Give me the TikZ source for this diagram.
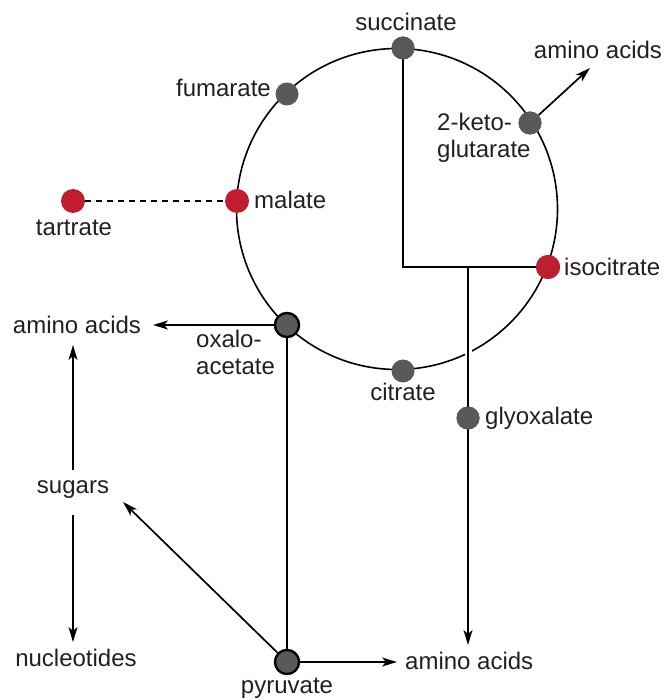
\documentclass[tikz,border=0pt]{standalone}
\usepackage{fontspec}
\setmainfont{Liberation Sans}
\usetikzlibrary{arrows.meta}
\definecolor{dotgray}{HTML}{58595B}
\definecolor{dotred}{HTML}{BE1E2D}
\definecolor{txt}{HTML}{231F20}
\begin{document}
\begin{tikzpicture}[x=1pt,y=-1pt,
  every node/.style={font=\fontsize{24}{27}\selectfont, text=txt},
  gdot/.style={circle, fill=dotgray, minimum size=23pt, inner sep=0pt},
  rdot/.style={circle, fill=dotred, minimum size=24pt, inner sep=0pt},
  bdot/.style={circle, fill=dotgray, draw=black, line width=2.2pt, minimum size=24pt, inner sep=0pt},
  lbl/.style={inner sep=0pt},
  conn/.style={line width=1.7pt, draw=black},
  arr/.style={conn, -{Stealth[length=15pt,width=9pt,inset=4pt]}}]
\useasboundingbox (0,0) rectangle (666,700);
% cycle
\draw[conn, line width=1.6pt] (397,209) circle[radius=160.5];
% dots
\node[gdot] (succ) at (403,48) {};
\node[gdot] (fum) at (287,94) {};
\node[gdot] (kg) at (530,123) {};
\node[rdot] (mal) at (237,201) {};
\node[rdot] (tart) at (73,201) {};
\node[rdot] (iso) at (548,267) {};
\node[bdot] (oxa) at (287,325) {};
\node[gdot] (cit) at (403,371) {};
\node[gdot] (gly) at (468,418) {};
\node[bdot] (pyr) at (287,662) {};
% labels
\node[lbl] (succL) at (406,22) {succinate};
\node[lbl, anchor=east] (fumL) at (271,88) {fumarate};
\node[lbl, anchor=west, align=left] (kgL) at (437,138) {2-keto-\\glutarate};
\node[lbl, anchor=west] (malL) at (254,200) {malate};
\node[lbl] (tartL) at (74,228) {tartrate};
\node[lbl, anchor=west] (isoL) at (564,267) {isocitrate};
\node[lbl] (aaTR) at (598,50) {amino acids};
\node[lbl, anchor=west, align=left] (oxaL) at (196,352) {oxalo-\\acetate};
\node[lbl] (citL) at (403,392) {citrate};
\node[lbl, anchor=west] (glyL) at (485,418) {glyoxalate};
\node[lbl] (aaL) at (77,325) {amino acids};
\node[lbl] (sug) at (73,490) {sugars};
\node[lbl] (nuc) at (76,658) {nucleotides};
\node[lbl, anchor=west] (aaB) at (405,661) {amino acids};
\node[lbl] (pyrL) at (287,688) {pyruvate};
% coordinates
\coordinate (corner) at (403,267);
\coordinate (br) at (468,267);
\coordinate (glytip) at (468,645);
\coordinate (aaTRtip) at (590,68);
\coordinate (aaLtip) at (153,325);
\coordinate (aaBtip) at (397,662);
\coordinate (sugtip) at (123,502);
\coordinate (gapA) at (468,320);
\coordinate (gapB) at (468,390);
% connectors
\draw[white, line width=7pt] (gapA) -- (gapB);
\draw[conn, line width=1.3pt, dash pattern=on 6pt off 5pt] (tart) -- (mal);
\draw[conn] (succ.center) -- (corner) -- (iso.center);
\draw[arr] (br) -- (glytip);
\draw[arr] (kg) -- (aaTRtip);
\draw[arr] (oxa) -- (aaLtip);
\draw[conn] (oxa) -- (pyr);
\draw[arr] (pyr) -- (aaBtip);
\draw[arr] (pyr) -- (sugtip);
\draw[arr] ([yshift=20pt]sug.center) -- ([xshift=-4pt,yshift=-20pt]aaL.center);
\draw[arr] ([yshift=-25pt]sug.center) -- ([xshift=-3pt,yshift=16pt]nuc.center);
% redraw dots on top
\node[gdot] at (succ) {};
\node[rdot] at (iso) {};
\node[gdot] at (gly) {};
\node[bdot] at (oxa) {};
\node[bdot] at (pyr) {};
\node[gdot] at (kg) {};
\end{tikzpicture}
\end{document}
